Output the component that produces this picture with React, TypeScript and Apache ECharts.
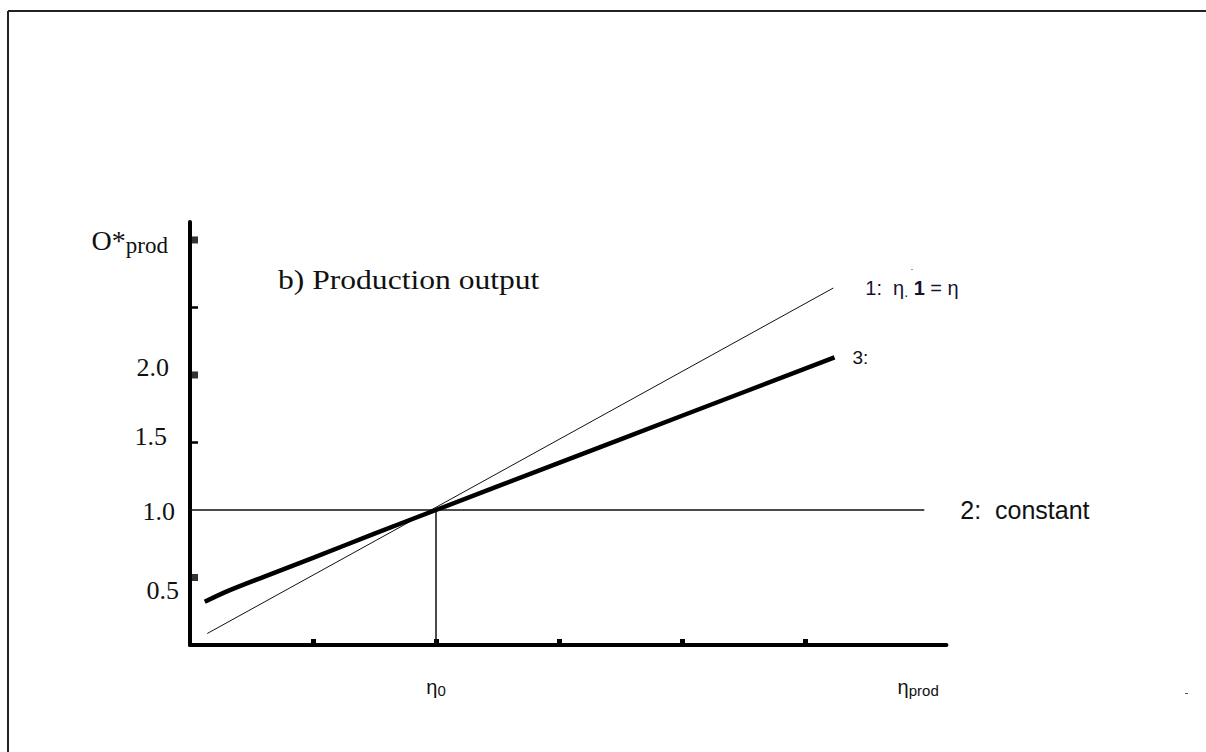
import React, { useEffect, useRef } from "react";
import * as echarts from "echarts";

// ---- data ----
const line1Points: number[][] = [[0.14, 0.085], [5.23, 2.644]];
const constantPoints: number[][] = [[0, 1], [5.97, 1]];
const etaZeroPoints: number[][] = [[2, 0], [2, 1]];
const line3Points: number[][] = [
  [0.12, 0.32], [0.3, 0.397], [0.6, 0.505], [1.0, 0.645], [1.5, 0.825],
  [2.0, 1.0], [3.0, 1.349], [4.0, 1.698], [5.24, 2.13],
];
const xTickValues = [1, 2, 3, 4, 5];
const xLabelValues = [2, 5.92];
const yThinTickValues = [1.5, 2.5];
const yBoldTickPoints: number[][] = [[0, 0.5], [0, 2], [0, 3]];
const yLabelValues = [0.5, 1, 1.5, 2];
const xMax = 6.15;
const yMax = 3.133;

const SERIF = "'Liberation Serif', 'Times New Roman', serif";
const SANS = "'Liberation Sans', Arial, sans-serif";

export default function App() {
  const ref = useRef<HTMLDivElement>(null);
  useEffect(() => {
    if (!ref.current) return;
    const chart = echarts.init(ref.current, undefined, { renderer: "svg" });
    const yLabelStyle = (name: string) => {
      const base = { fontFamily: SERIF, fontSize: 26, color: "#111" };
      const pads: Record<string, number[]> = {
        v05: [26, 0, 0, 0],
        v10: [4, 4, 0, 0],
        v15: [0, 12, 12, 0],
        v20: [0, 10, 14, 0],
      };
      return { ...base, padding: pads[name] };
    };
    chart.setOption({
      animation: false,
      backgroundColor: "#ffffff",
      grid: { left: 190, top: 222, width: 123 * xMax, bottom: 107 },
      xAxis: {
        type: "value",
        min: 0,
        max: xMax,
        axisLine: { show: true, lineStyle: { color: "#000", width: 4 } },
        axisTick: {
          show: true,
          inside: true,
          length: 6,
          customValues: xTickValues,
          lineStyle: { color: "#000", width: 5 },
        },
        axisLabel: {
          show: true,
          customValues: xLabelValues,
          margin: 30,
          formatter: (v: number) =>
            v === 2 ? "{e|η}{s|0}" : "{e|η}{s|prod}",
          rich: {
            e: { fontFamily: SANS, fontSize: 20, color: "#111" },
            s: { fontFamily: SANS, fontSize: 15, color: "#111", padding: [8, 0, 0, 0] },
          },
        },
        splitLine: { show: false },
      },
      yAxis: {
        type: "value",
        min: 0,
        max: yMax,
        axisLine: { show: true, lineStyle: { color: "#000", width: 4 } },
        axisTick: {
          show: true,
          inside: true,
          length: 8,
          customValues: yThinTickValues,
          lineStyle: { color: "#000", width: 2.5 },
        },
        axisLabel: {
          show: true,
          customValues: yLabelValues,
          margin: 11,
          formatter: (v: number) => {
            const key = v === 0.5 ? "v05" : v === 1 ? "v10" : v === 1.5 ? "v15" : "v20";
            return `{${key}|${v.toFixed(1)}}`;
          },
          rich: {
            v05: yLabelStyle("v05"),
            v10: yLabelStyle("v10"),
            v15: yLabelStyle("v15"),
            v20: yLabelStyle("v20"),
          },
        },
        splitLine: { show: false },
      },
      series: [
        {
          name: "constant",
          type: "line",
          data: constantPoints,
          symbol: "none",
          lineStyle: { color: "#111", width: 1.5 },
          endLabel: {
            show: true,
            formatter: "2:  constant",
            distance: 36,
            fontFamily: SANS,
            fontSize: 25,
            color: "#111",
          },
        },
        {
          name: "eta0",
          type: "line",
          data: etaZeroPoints,
          symbol: "none",
          lineStyle: { color: "#111", width: 1.5 },
        },
        {
          name: "line1",
          type: "line",
          data: line1Points,
          symbol: "none",
          lineStyle: { color: "#111", width: 1 },
          endLabel: {
            show: true,
            distance: 32,
            formatter: "{a|1:  η}{s|.}{a| }{b|1}{a| = η}",
            rich: {
              a: { fontFamily: SANS, fontSize: 20, color: "#1a1030" },
              s: { fontFamily: SANS, fontSize: 14, color: "#1a1030", padding: [8, 0, 0, 0] },
              b: { fontFamily: SANS, fontSize: 20, fontWeight: "bold", color: "#1a1030" },
            },
          },
        },
        {
          name: "line3",
          type: "line",
          data: line3Points,
          symbol: "none",
          smooth: 0.3,
          lineStyle: { color: "#000", width: 4.5 },
          endLabel: {
            show: true,
            formatter: "3:",
            distance: 18,
            fontFamily: SANS,
            fontSize: 19,
            color: "#111",
          },
        },
        {
          name: "boldTicks",
          type: "scatter",
          data: yBoldTickPoints,
          symbol: "rect",
          symbolSize: [6, 7],
          symbolOffset: [5, 0],
          itemStyle: { color: "#000" },
          clip: false,
        },
      ],
      graphic: [
        { type: "line", shape: { x1: 8, y1: 11, x2: 1206, y2: 11 }, style: { stroke: "#222", lineWidth: 2 } },
        { type: "line", shape: { x1: 8, y1: 11, x2: 8, y2: 752 }, style: { stroke: "#222", lineWidth: 2 } },
        {
          type: "text",
          x: 278,
          y: 280,
          scaleX: 1.17,
          style: {
            text: "b) Production output",
            fontFamily: SERIF,
            fontSize: 27,
            fill: "#111",
            verticalAlign: "middle",
          },
        },
        {
          type: "text",
          x: 168,
          y: 240,
          style: {
            text: "{o|O*}{p|prod}",
            align: "right",
            verticalAlign: "middle",
            rich: {
              o: { fontFamily: SERIF, fontSize: 28, fill: "#111" },
              p: { fontFamily: SERIF, fontSize: 23, fill: "#111", padding: [10, 0, 0, 0] },
            },
          },
        },
        { type: "rect", shape: { x: 911, y: 269, width: 2, height: 1 }, style: { fill: "#999" } },
        { type: "rect", shape: { x: 1185, y: 693, width: 3, height: 1 }, style: { fill: "#555" } },
      ],
    });
    return () => chart.dispose();
  }, []);
  return (
    <div
      ref={ref}
      style={{ position: "fixed", left: 0, top: 0, width: 1206, height: 752, background: "#fff" }}
    />
  );
}
